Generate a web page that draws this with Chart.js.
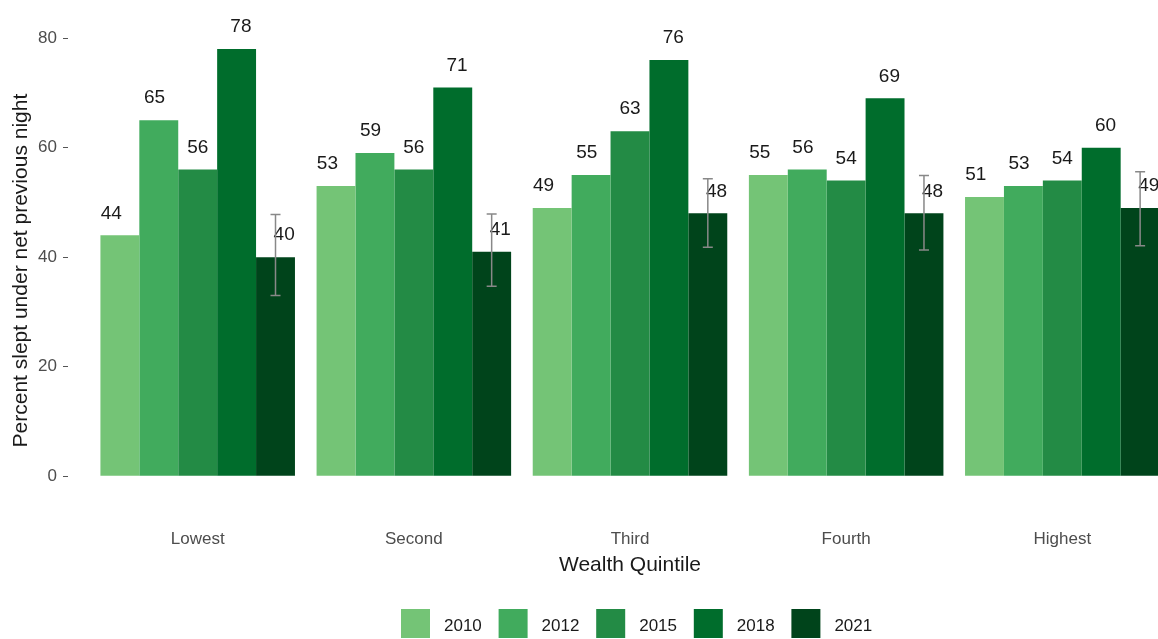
<!DOCTYPE html>
<html>
<head>
<meta charset="utf-8">
<script src="https://cdn.jsdelivr.net/npm/chart.js@4.4.1/dist/chart.umd.min.js"></script>
<style>
    html, body { margin: 0; padding: 0; background: #fff; overflow: hidden; }
    .chart { width: 1272px; height: 639px; }
</style>
</head>
<body>
<div class="chart">
    <canvas id="netChart" width="1272" height="639"></canvas>
</div>

<script>
    // wealth quintiles and survey years
    const quintiles = ['Lowest', 'Second', 'Third', 'Fourth', 'Highest'];
    const years = ['2010', '2012', '2015', '2018', '2021'];
    const yTicks = [0, 20, 40, 60, 80];

    // percent slept under net, one array per survey year (in quintile order)
    const pct2010 = [44, 53, 49, 55, 51];
    const pct2012 = [65, 59, 55, 56, 53];
    const pct2015 = [56, 56, 63, 54, 54];
    const pct2018 = [78, 71, 76, 69, 60];
    const pct2021 = [40, 41, 48, 48, 49];

    // confidence interval for 2021 only
    const ci2021Low = [33.0, 34.7, 41.8, 41.3, 42.1];
    const ci2021High = [47.8, 47.9, 54.3, 54.9, 55.6];

    const yearValues = [pct2010, pct2012, pct2015, pct2018, pct2021];
    const greens = ['#74c476', '#41ab5d', '#238b45', '#006d2c', '#00441b'];

    const FONT = 'Arial, "Liberation Sans", sans-serif';

    // labels above bars, dodged a bit wider than the bars themselves
    const valueLabels = {
        id: 'valueLabels',
        afterDatasetsDraw(chart) {
            const ctx = chart.ctx;
            const x = chart.scales.x, y = chart.scales.y;
            ctx.save();
            ctx.font = '19px ' + FONT;
            ctx.fillStyle = '#1a1a1a';
            ctx.textAlign = 'center';
            ctx.textBaseline = 'middle';
            yearValues.forEach((vals, i) => {
                vals.forEach((v, q) => {
                    const px = x.getPixelForValue(q + 1 + (i - 2) * 0.2);
                    const py = y.getPixelForValue(v) - 22;
                    ctx.fillText(String(v), px, py);
                });
            });
            ctx.restore();
        }
    };

    // error bars on the 2021 bars
    const errorBars = {
        id: 'errorBars',
        afterDatasetsDraw(chart) {
            const ctx = chart.ctx;
            const y = chart.scales.y;
            const meta = chart.getDatasetMeta(4);
            ctx.save();
            ctx.strokeStyle = '#888888';
            ctx.lineWidth = 1.5;
            meta.data.forEach((bar, q) => {
                const cx = bar.x;
                const top = y.getPixelForValue(ci2021High[q]);
                const bot = y.getPixelForValue(ci2021Low[q]);
                ctx.beginPath();
                ctx.moveTo(cx, top); ctx.lineTo(cx, bot);
                ctx.moveTo(cx - 5, top); ctx.lineTo(cx + 5, top);
                ctx.moveTo(cx - 5, bot); ctx.lineTo(cx + 5, bot);
                ctx.stroke();
            });
            ctx.restore();
        }
    };

    // legend row at the bottom
    const bottomLegend = {
        id: 'bottomLegend',
        afterDraw(chart) {
            const ctx = chart.ctx;
            const box = 29, gap = 14, step = 97.6;
            const startX = 401;
            const top = 609;
            ctx.save();
            ctx.font = '17px ' + FONT;
            ctx.textBaseline = 'middle';
            ctx.textAlign = 'left';
            years.forEach((yr, i) => {
                const lx = startX + i * step;
                ctx.fillStyle = greens[i];
                ctx.fillRect(lx, top, box, box);
                ctx.fillStyle = '#1a1a1a';
                ctx.fillText(yr, lx + box + gap, top + box / 2 + 3);
            });
            ctx.restore();
        }
    };

    const ctx = document.getElementById('netChart').getContext('2d');
    new Chart(ctx, {
        type: 'bar',
        data: {
            datasets: years.map((yr, i) => ({
                label: yr,
                data: yearValues[i].map((v, q) => ({ x: q + 1, y: v })),
                backgroundColor: greens[i],
                borderWidth: 0,
                categoryPercentage: 0.9,
                barPercentage: 1.0
            }))
        },
        options: {
            responsive: false,
            animation: false,
            layout: { padding: { left: 0, right: 80, top: 14, bottom: 54 } },
            plugins: {
                legend: { display: false },
                tooltip: { enabled: false }
            },
            scales: {
                x: {
                    type: 'linear',
                    offset: false,
                    min: 0.4,
                    max: 5.6,
                    afterBuildTicks: axis => { axis.ticks = quintiles.map((_, i) => ({ value: i + 1 })); },
                    afterFit: axis => { axis.height = 60; },
                    grid: { display: false, drawTicks: false },
                    border: { display: false },
                    ticks: {
                        padding: 4,
                        autoSkip: false,
                        maxRotation: 0,
                        color: '#4d4d4d',
                        font: { family: FONT, size: 17 },
                        callback: v => quintiles[v - 1] || ''
                    },
                    title: {
                        display: true,
                        text: 'Wealth Quintile',
                        color: '#1a1a1a',
                        font: { family: FONT, size: 21 },
                        padding: { top: 0, bottom: 7 }
                    }
                },
                y: {
                    min: -8.9,
                    max: 84,
                    afterBuildTicks: axis => { axis.ticks = yTicks.map(v => ({ value: v })); },
                    afterFit: axis => { axis.width = 68; },
                    grid: {
                        drawOnChartArea: false,
                        drawTicks: true,
                        tickLength: 5,
                        tickColor: '#555555',
                        tickWidth: 1
                    },
                    border: { display: false },
                    ticks: {
                        padding: 6,
                        color: '#4d4d4d',
                        font: { family: FONT, size: 17 }
                    },
                    title: {
                        display: true,
                        text: 'Percent slept under net previous night',
                        color: '#1a1a1a',
                        font: { family: FONT, size: 21 },
                        padding: { top: 9, bottom: 0 }
                    }
                }
            }
        },
        plugins: [valueLabels, errorBars, bottomLegend]
    });
</script>
</body>
</html>
